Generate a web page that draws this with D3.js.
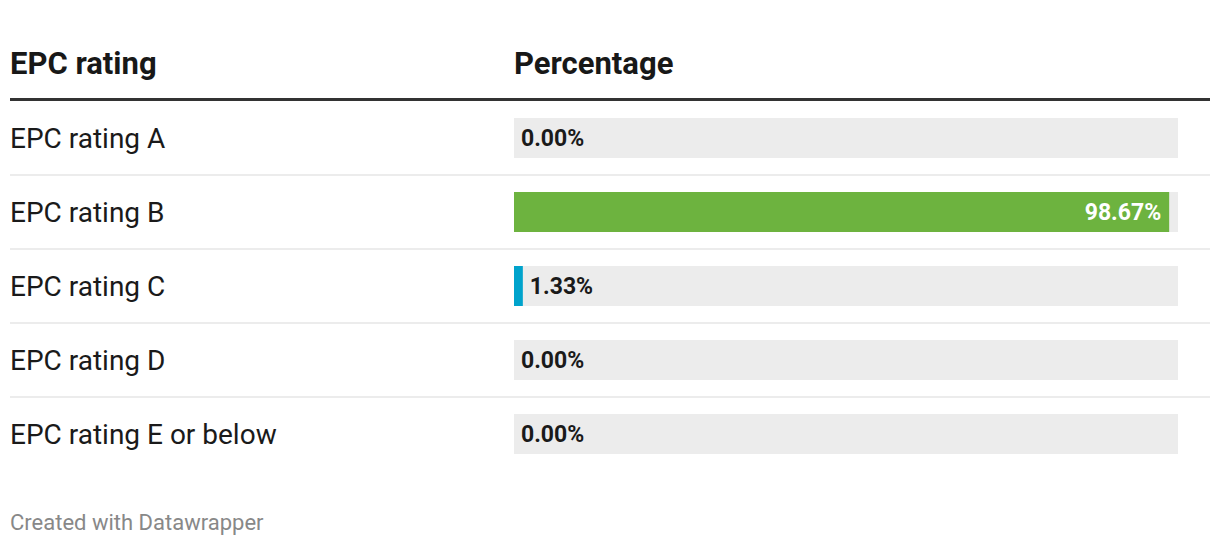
<!DOCTYPE html>
<html><head><meta charset="utf-8">
<script src="https://cdn.jsdelivr.net/npm/d3@7"></script>
<style>body{margin:0;background:#fff;}svg{display:block;font-family:Roboto,sans-serif;}</style>
</head><body>
<svg id="c" width="1220" height="546"></svg>
<script>
const categories = ["EPC rating A","EPC rating B","EPC rating C","EPC rating D","EPC rating E or below"];
const values = [0.00, 98.67, 1.33, 0.00, 0.00];
const barColors = ["#6db33f","#6db33f","#00a3cc","#6db33f","#6db33f"];
const headers = ["EPC rating","Percentage"];
const footer = "Created with Datawrapper";

const svg = d3.select("#c");
const left = 10, right = 1210, barX0 = 514, barX1 = 1178;
const y = d3.scaleBand().domain(categories).range([101, 471]).paddingInner(0).paddingOuter(0);
const x = d3.scaleLinear().domain([0,100]).range([barX0, barX1]);

svg.append("text").attr("x", left).attr("y", 74).attr("font-size", 31).attr("font-weight", 700).attr("fill","#181818").text(headers[0]);
svg.append("text").attr("x", barX0).attr("y", 74).attr("font-size", 31).attr("font-weight", 700).attr("fill","#181818").text(headers[1]);
svg.append("rect").attr("x", left).attr("y", 98).attr("width", right-left).attr("height", 3).attr("fill","#333");

const rows = svg.selectAll("g.row").data(categories).join("g").attr("class","row")
  .attr("transform", d => `translate(0,${y(d)})`);
const bh = y.bandwidth();
rows.filter((d,i)=> i < categories.length-1).append("line")
  .attr("x1", left).attr("x2", right).attr("y1", bh).attr("y2", bh)
  .attr("stroke","#e6e6e6").attr("stroke-width",1.5);
rows.append("text").attr("x", left).attr("y", bh/2 + 10).attr("font-size", 28).attr("fill","#1a1a1a").text(d=>d);
rows.append("rect").attr("x", barX0).attr("y", bh/2 - 20).attr("width", barX1-barX0).attr("height", 40).attr("fill","#ececec");
rows.append("rect").attr("x", barX0).attr("y", bh/2 - 20)
  .attr("width", (d,i)=> x(values[i]) - x(0)).attr("height", 40).attr("fill", (d,i)=>barColors[i]);
rows.append("text")
  .attr("x", (d,i)=> values[i] > 50 ? x(values[i]) - 8 : x(values[i]) + 7)
  .attr("text-anchor", (d,i)=> values[i] > 50 ? "end" : "start")
  .attr("y", bh/2 + 8).attr("font-size", 23).attr("font-weight", 700)
  .attr("fill", (d,i)=> values[i] > 50 ? "#ffffff" : "#1a1a1a")
  .text((d,i)=> values[i].toFixed(2) + "%");

svg.append("text").attr("x", left).attr("y", 530).attr("font-size", 22).attr("fill","#888").text(footer);
</script>
</body></html>
